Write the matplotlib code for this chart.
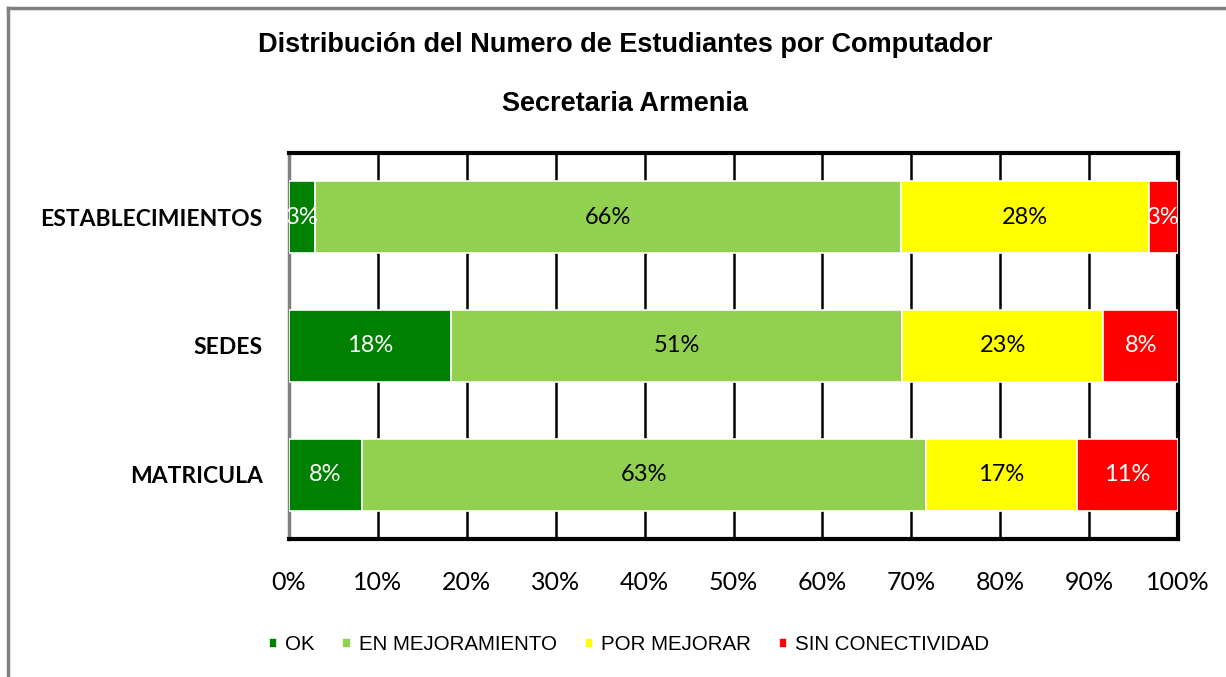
import matplotlib
matplotlib.use("Agg")
import matplotlib.pyplot as plt
import numpy as np

categories = ["MATRICULA", "SEDES", "ESTABLECIMIENTOS"]
series_names = ["OK", "EN MEJORAMIENTO", "POR MEJORAR", "SIN CONECTIVIDAD"]
ok = [8.2, 18.2, 2.9]
en_mejoramiento = [63.4, 50.8, 65.9]
por_mejorar = [17.0, 22.6, 27.9]
sin_conectividad = [11.4, 8.4, 3.3]
colors = ["#008000", "#92D050", "#FFFF00", "#FF0000"]
label_colors = ["white", "black", "black", "white"]
xtick_labels = ["0%", "10%", "20%", "30%", "40%", "50%", "60%", "70%", "80%", "90%", "100%"]

fig = plt.figure(figsize=(12.26, 6.77), dpi=100)
W, H = 1226, 677
ax = fig.add_axes([289 / W, 1 - 539 / H, (1178 - 289) / W, (539 - 153) / H])

data = [ok, en_mejoramiento, por_mejorar, sin_conectividad]
y = np.arange(len(categories))
left = np.zeros(len(categories))
for vals, c, lc, name in zip(data, colors, label_colors, series_names):
    vals = np.array(vals)
    ax.barh(y, vals, left=left, height=0.56, color=c, edgecolor="white",
            linewidth=1.2, label=name, zorder=3)
    for yi, v, l in zip(y, vals, left):
        ax.text(l + v / 2, yi, f"{round(v):.0f}%", ha="center", va="center",
                color=lc, fontsize=17, family="Lato", zorder=4, clip_on=False)
    left += vals

ax.set_xlim(0, 100)
ax.set_ylim(-0.5, 2.5)
ax.set_xticks(np.arange(0, 101, 10))
ax.set_xticklabels(xtick_labels, family="Lato", fontsize=18)
ax.set_yticks(y)
ax.set_yticklabels(categories, family="Lato", fontweight="bold", fontsize=16.5)
ax.tick_params(axis="x", length=0, pad=23)
ax.tick_params(axis="y", length=0, pad=19)
ax.xaxis.grid(True, color="black", linewidth=1.8, zorder=0)
ax.set_axisbelow(True)
for s in ["top", "right", "bottom"]:
    ax.spines[s].set_linewidth(3)
    ax.spines[s].set_color("black")
ax.spines["left"].set_linewidth(2.5)
ax.spines["left"].set_color("#808080")

cx = 0.5 * (257 + 993) / W
fig.text(cx, 1 - 45 / H,
         "Distribución del Numero de Estudiantes por Computador",
         ha="center", va="center", fontsize=19.5, fontweight="bold", family="Liberation Sans")
fig.text(cx, 1 - 104 / H, "Secretaria Armenia",
         ha="center", va="center", fontsize=19.5, fontweight="bold", family="Liberation Sans")

handles, labels = ax.get_legend_handles_labels()
leg = fig.legend(handles, labels, loc="center", bbox_to_anchor=(629 / W, 1 - 645 / H),
                 ncol=4, frameon=False, handlelength=0.4, handleheight=0.4,
                 handletextpad=0.4, columnspacing=1.35,
                 prop={"family": "Liberation Sans", "size": 14.8})

# outer frame lines (gray)
fig.add_artist(plt.Line2D([8 / W, 8 / W], [0, 1 - 8 / H], color="#808080", linewidth=2.5,
                          transform=fig.transFigure))
fig.add_artist(plt.Line2D([8 / W, 1], [1 - 8 / H, 1 - 8 / H], color="#808080", linewidth=2.5,
                          transform=fig.transFigure))

fig.savefig("out.png", dpi=100)
